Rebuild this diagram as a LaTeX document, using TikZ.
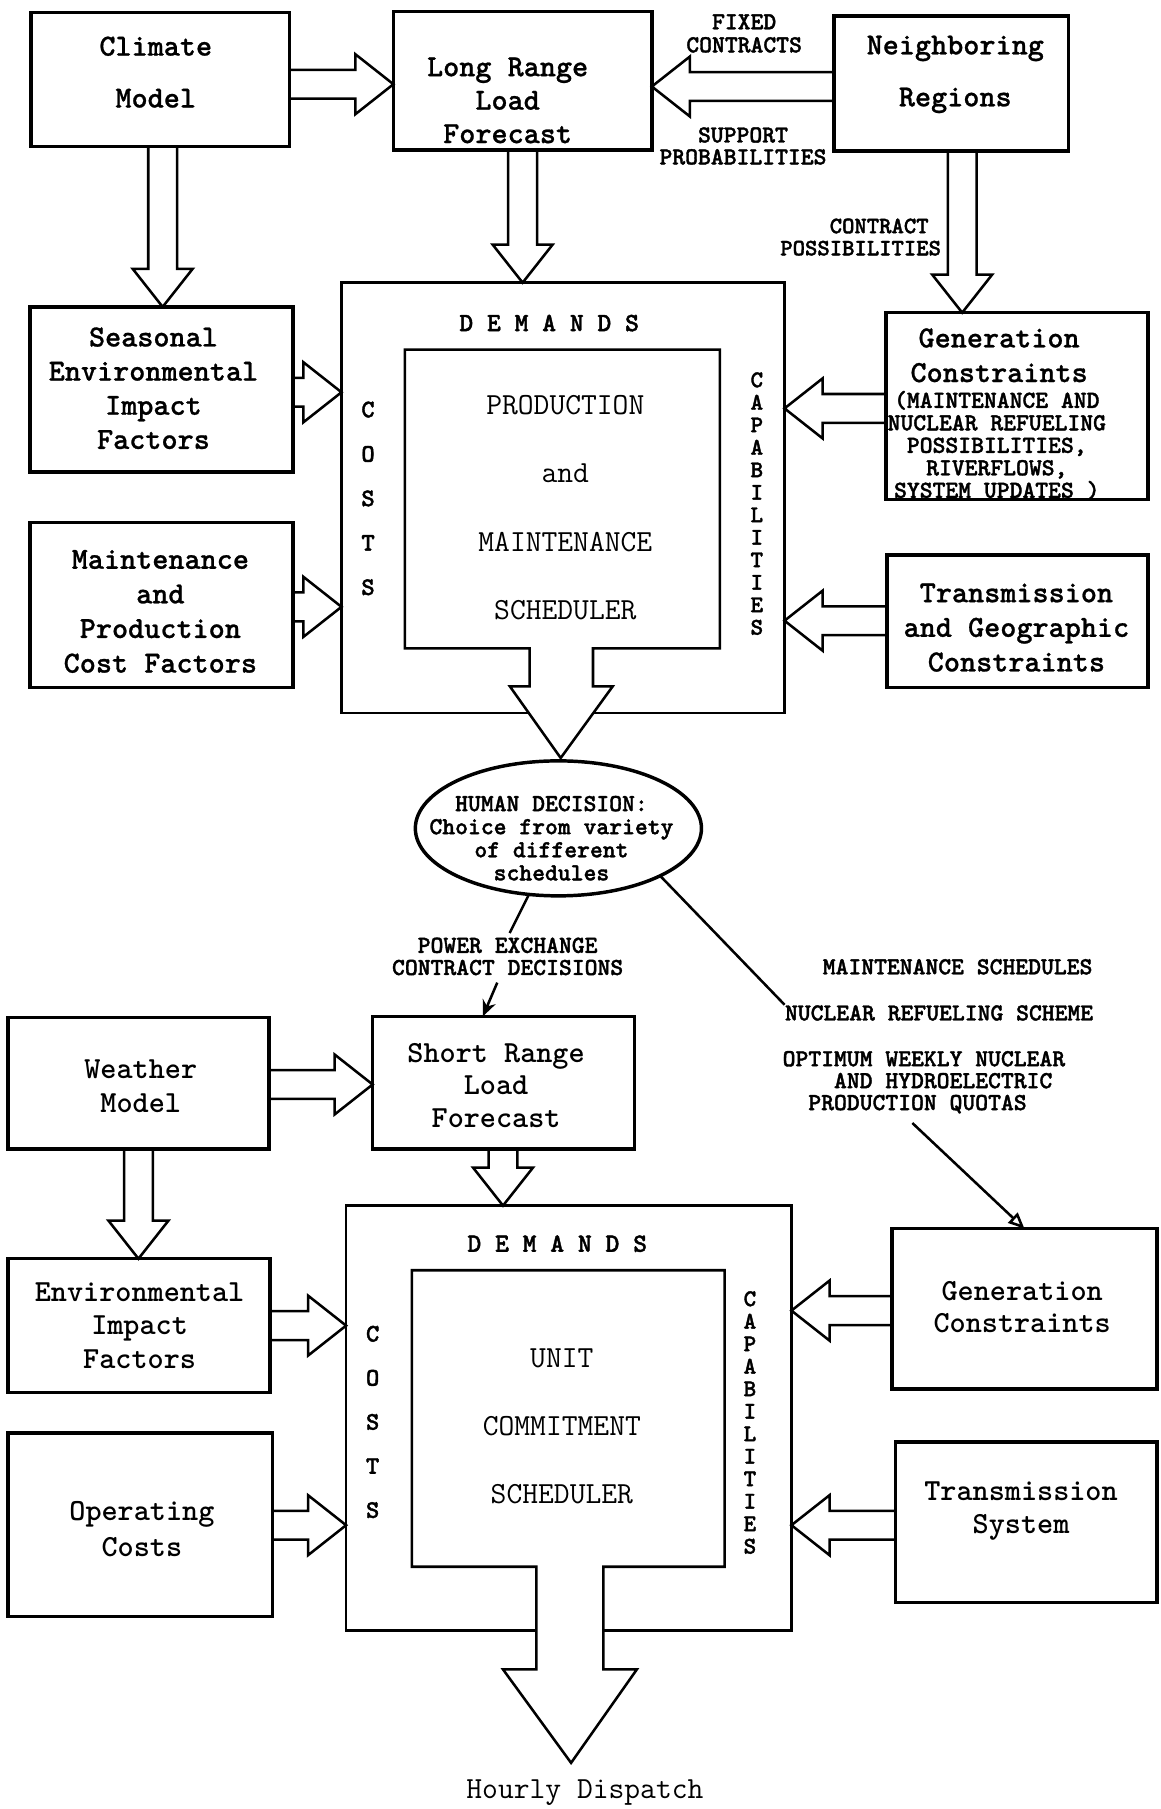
\documentclass[tikz,border=0pt]{standalone}
\usepackage{fontspec}
\newfontfamily\heavytt{lmmonolt10-bold.otf}[FakeBold=1.5]
\newfontfamily\semitt{lmmonolt10-bold.otf}[FakeBold=0.8]
\usetikzlibrary{calc,shapes.geometric,arrows.meta}
\tikzset{
  box/.style={draw, line width=1.5pt, inner sep=0pt, outer sep=0pt},
  frm/.style={draw, line width=1.2pt, inner sep=0pt, outer sep=0pt},
  blk/.style={draw, line width=1.1pt, line join=miter},
  inr/.style={draw, line width=1.1pt, fill=white, line join=miter},
  ttl/.style={inner sep=0pt, align=center, font=\ttfamily\bfseries\fontsize{13.3}{#1}\selectfont},
  ttl/.default=14,
  tth/.style={inner sep=0pt, align=center, font=\semitt\fontsize{13.3}{#1}\selectfont},
  tth/.default=14,
  ttr/.style={inner sep=0pt, align=center, font=\ttfamily\fontsize{13.3}{#1}\selectfont},
  ttr/.default=14,
  lbl/.style={inner sep=0pt, align=center, font=\heavytt\fontsize{10.6}{#1}\selectfont},
  lbl/.default=10,
  thinln/.style={draw, line width=1.1pt},
}
\newcommand\bbox[6][box]{\node[#1, minimum width={(#5-#3)*0.5pt}, minimum height={(#6-#4)*0.5pt}] (#2) at ({(#3+#5)/2},{(#4+#6)/2}) {};}
\newcommand\blkarrow[2]{%
  \coordinate (ba-a) at (#1);
  \coordinate (ba-b) at (#2);
  \coordinate (ba-h) at ($(ba-b)!16.5pt!(ba-a)$);
  \draw[blk] ($(ba-a)!6.25pt!90:(ba-b)$) -- ($(ba-h)!6.25pt!90:(ba-b)$) -- ($(ba-h)!13pt!90:(ba-b)$) -- (ba-b) -- ($(ba-h)!13pt!-90:(ba-b)$) -- ($(ba-h)!6.25pt!-90:(ba-b)$) -- ($(ba-a)!6.25pt!-90:(ba-b)$);
}
\begin{document}
\begin{tikzpicture}[x=0.5pt, y=-0.5pt]
\fill[white] (0,0) rectangle (1006,1568);
\useasboundingbox (0,0) rectangle (1006,1568);

% ---------- upper part ----------
\bbox{climate}{27}{11}{251}{127}
\bbox{lrlf}{341}{10}{565}{130}
\bbox{neigh}{723}{14}{926}{131}
\bbox{seas}{26}{266}{254}{409}
\bbox{maint}{26}{453}{254}{596}
\bbox{gen1}{768}{271}{995}{433}
\bbox{trans1}{769}{481}{995}{596}
\bbox[frm]{frame1}{296}{245}{680}{618}

\draw[inr] (459,562) -- (351,562) -- (351,303) -- (624,303) -- (624,562) -- (514,562) -- (514,595) -- (531,595) -- (486,657) -- (442,595) -- (459,595) -- cycle;

\node[tth=22.5] (climate-t) at (135,62.5) {Climate\\Model};
\node[tth=14.5] (lrlf-t) at (440,87) {Long Range\\Load\\Forecast};
\node[tth=22.5] (neigh-t) at (828,64.5) {Neighboring\\Regions};
\node[tth=14.8] (seas-t) at (133,336.5) {Seasonal\\Environmental\\Impact\\Factors};
\node[tth=15] (maint-t) at (139,530) {Maintenance\\and\\Production\\Cost Factors};
\node[tth=15] (gen1-t) at (866,308) {Generation\\Constraints};
\node[lbl=9.75] (gen1-n) at (864,386) {(MAINTENANCE AND\\NUCLEAR REFUELING\\POSSIBILITIES,\\RIVERFLOWS,\\SYSTEM UPDATES )};
\node[tth=15] (trans1-t) at (881,544) {Transmission\\and Geographic\\Constraints};
\node[ttr=29.7] (inner1-t) at (490,440) {PRODUCTION\\and\\MAINTENANCE\\SCHEDULER};
\node[lbl, font=\heavytt\fontsize{11.4}{12}\selectfont] (dem1) at (476,280) {D E M A N D S};
\node[lbl=19.25, font=\heavytt\fontsize{11}{19.25}\selectfont] (cost1) at (319,432) {C\\O\\S\\T\\S};
\node[lbl=9.75, font=\heavytt\fontsize{10.4}{9.75}\selectfont] (cap1) at (656,436.5) {C\\A\\P\\A\\B\\I\\L\\I\\T\\I\\E\\S};
\node[lbl=10] (fixed) at (645,29) {FIXED\\CONTRACTS};
\node[lbl=9.5] (support) at (644,126.5) {SUPPORT\\PROBABILITIES};
\node[lbl=9.6, align=right, anchor=east, font=\heavytt\fontsize{10.2}{9.6}\selectfont] (cposs) at (816,205.5) {CONTRACT\hphantom{X}\\POSSIBILITIES};

\blkarrow{climate.east |- 0,73}{lrlf.west |- 0,73}
\blkarrow{neigh.west |- 0,75}{lrlf.east |- 0,75}
\blkarrow{seas.east |- 0,340}{frame1.west |- 0,340}
\blkarrow{maint.east |- 0,526}{frame1.west |- 0,526}
\blkarrow{gen1.west |- 0,354}{frame1.east |- 0,354}
\blkarrow{trans1.west |- 0,538}{frame1.east |- 0,538}
\blkarrow{climate.south -| 141,0}{seas.north -| 141,0}
\blkarrow{lrlf.south -| 453,0}{frame1.north -| 453,0}
\blkarrow{neigh.south -| 834,0}{gen1.north -| 834,0}

% ---------- decision ----------
\node[draw, ellipse, line width=1.5pt, minimum width=124pt, minimum height=58.5pt, inner sep=0pt, outer sep=0pt] (hd) at (484,718) {};
\node[lbl=10] (hd-t) at (478,726.5) {HUMAN DECISION:\\Choice from variety\\of different\\schedules};
\node[lbl=9.6] (pe) at (440,829) {POWER EXCHANGE\\CONTRACT DECISIONS};
\node[lbl] (ms) at (830,838) {MAINTENANCE SCHEDULES};
\node[lbl] (nuc) at (814,878) {NUCLEAR REFUELING SCHEME};
\node[lbl=9.5, align=left, anchor=west] (opt) at (678,938) {OPTIMUM WEEKLY NUCLEAR\\\hphantom{XXXX}AND HYDROELECTRIC\\\hphantom{XX}PRODUCTION QUOTAS};

% ---------- lower part ----------
\bbox{weather}{7}{882}{233}{996}
\bbox{srlf}{323}{881}{550}{996}
\bbox{env}{7}{1091}{234}{1207}
\bbox{op}{7}{1242}{236}{1401}
\bbox{gen2}{773}{1065}{1003}{1204}
\bbox{trans2}{776}{1250}{1003}{1389}
\bbox[frm]{frame2}{300}{1045}{686}{1413}

\draw[inr] (465,1358) -- (357,1358) -- (357,1101) -- (628,1101) -- (628,1358) -- (523,1358) -- (523,1447) -- (552,1447) -- (495,1528) -- (436,1447) -- (465,1447) -- cycle;

\node[ttl=14.5] (weather-t) at (122,941.5) {Weather\\Model};
\node[ttl=14] (srlf-t) at (430,940.7) {Short Range\\Load\\Forecast};
\node[ttl=14.5] (env-t) at (121,1149) {Environmental\\Impact\\Factors};
\node[ttl=15.5] (op-t) at (123,1325.5) {Operating\\Costs};
\node[ttl=14] (gen2-t) at (886,1133) {Generation\\Constraints};
\node[ttl=14.5] (trans2-t) at (885,1309.5) {Transmission\\System};
\node[ttr=29.5] (inner2-t) at (487,1236) {UNIT\\COMMITMENT\\SCHEDULER};
\node[lbl, font=\heavytt\fontsize{11.4}{12}\selectfont] (dem2) at (483,1078) {D E M A N D S};
\node[lbl=19.1, font=\heavytt\fontsize{11}{19.1}\selectfont] (cost2) at (323,1232.5) {C\\O\\S\\T\\S};
\node[lbl=9.75, font=\heavytt\fontsize{10.4}{9.75}\selectfont] (cap2) at (650,1233) {C\\A\\P\\A\\B\\I\\L\\I\\T\\I\\E\\S};
\node[ttr] (hourly) at (507,1554) {Hourly Dispatch};

\blkarrow{weather.east |- 0,940}{srlf.west |- 0,940}
\blkarrow{env.east |- 0,1149}{frame2.west |- 0,1149}
\blkarrow{op.east |- 0,1322}{frame2.west |- 0,1322}
\blkarrow{gen2.west |- 0,1136}{frame2.east |- 0,1136}
\blkarrow{trans2.west |- 0,1322}{frame2.east |- 0,1322}
\blkarrow{weather.south -| 120,0}{env.north -| 120,0}
\blkarrow{srlf.south -| 436,0}{frame2.north -| 436,0}

% ---------- thin connectors ----------
\draw[thinln, shorten >=2pt] (hd.246) -- (pe.north);
\draw[thinln, -{Stealth[length=7pt,width=6pt]}] ([xshift=-4.5pt,yshift=-3pt]pe.south) -- ([xshift=-9pt]srlf.north);
\draw[thinln] (hd.-25) -- (nuc.north west);
\draw[thinln, -{Triangle[open,length=7pt,width=6pt]}] ([xshift=-5pt,yshift=-4pt]opt.south) -- (gen2.north);
\end{tikzpicture}
\end{document}
